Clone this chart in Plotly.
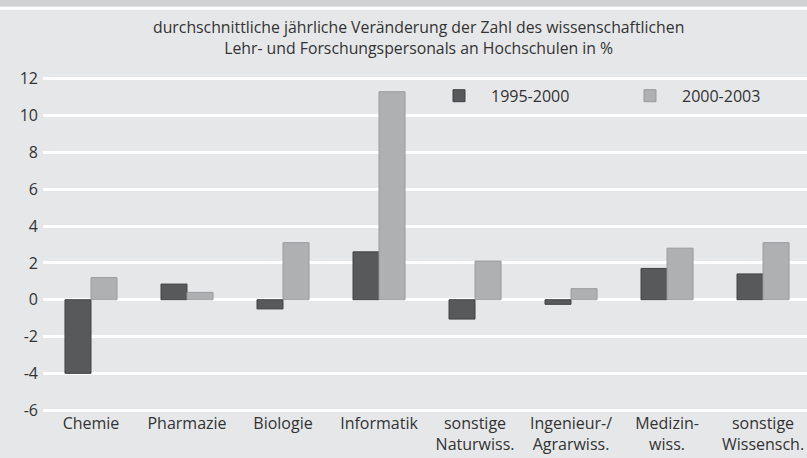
import plotly.graph_objects as go

categories = ["Chemie", "Pharmazie", "Biologie", "Informatik", "sonstige<br>Naturwiss.",
              "Ingenieur-/<br>Agrarwiss.", "Medizin-<br>wiss.", "sonstige<br>Wissensch."]
series_1995_2000 = [-4.0, 0.85, -0.5, 2.6, -1.05, -0.25, 1.7, 1.4]
series_2000_2003 = [1.2, 0.4, 3.1, 11.3, 2.1, 0.6, 2.8, 3.1]
y_ticks = [-6, -4, -2, 0, 2, 4, 6, 8, 10, 12]
y_ticktext = ["-6", "-4", "-2", "0", "2", "4", "6", "8", "10", "12"]
title_lines = ["durchschnittliche jährliche Veränderung der Zahl des wissenschaftlichen",
               "Lehr- und Forschungspersonals an Hochschulen in %"]

FONT = "Open Sans"
BG = "#e6e7e9"
TXT = "#333333"

fig = go.Figure()
fig.add_trace(go.Bar(x=categories, y=series_1995_2000, name="1995-2000",
                     marker=dict(color="#58595b", line=dict(color="#414244", width=1))))
fig.add_trace(go.Bar(x=categories, y=series_2000_2003, name="2000-2003",
                     marker=dict(color="#afb0b2", line=dict(color="#9a9b9d", width=1))))

PLOT_TOP = 77.2
PLOT_H = 335.1

def py(p):
    return (PLOT_TOP + PLOT_H - p) / PLOT_H

fig.update_layout(
    width=807, height=458,
    margin=dict(l=43, r=0, t=77, b=46, autoexpand=False),
    paper_bgcolor=BG, plot_bgcolor=BG,
    barmode="group", bargap=0.458, bargroupgap=0,
    font=dict(family=FONT, size=16, color=TXT),
    showlegend=True,
    legend=dict(orientation="h", x=(427 - 43) / 764, y=py(96), xanchor="left", yanchor="middle",
                bgcolor="rgba(0,0,0,0)", font=dict(size=16, color=TXT),
                itemwidth=54, entrywidth=122, entrywidthmode="pixels", itemclick=False,
                borderwidth=0, tracegroupgap=0),
    xaxis=dict(range=[-0.5, 7.458], showgrid=False, zeroline=False, showline=False,
               ticks="", ticklabelstandoff=0, tickfont=dict(size=16, color=TXT)),
    yaxis=dict(range=[-6.1, 12.1], tickvals=y_ticks, ticktext=y_ticktext, showgrid=True,
               gridcolor="white", gridwidth=2.5, zeroline=True, zerolinecolor="white",
               zerolinewidth=2.5, showline=False, ticks="", ticklabelstandoff=4,
               tickfont=dict(size=16, color=TXT)),
    annotations=[dict(text="<br>".join(title_lines), xref="paper", yref="paper",
                      x=(418 - 43) / 764, y=py(38), xanchor="center",
                      yanchor="middle", showarrow=False,
                      font=dict(size=15.8, color=TXT, family=FONT))],
    shapes=[
        dict(type="rect", xref="paper", yref="paper", x0=-0.06, x1=1.01, y0=py(7), y1=py(-5),
             fillcolor="#d1d2d4", line=dict(width=0), layer="below"),
        dict(type="rect", xref="paper", yref="paper", x0=-0.06, x1=1.01, y0=py(10), y1=py(7),
             fillcolor="white", line=dict(width=0), layer="below"),
    ],
)

fig.write_html("out.html", config={"displayModeBar": False},
               post_script="document.body.style.margin='0';document.body.style.overflow='hidden';"
                           "document.documentElement.style.overflow='hidden';")
